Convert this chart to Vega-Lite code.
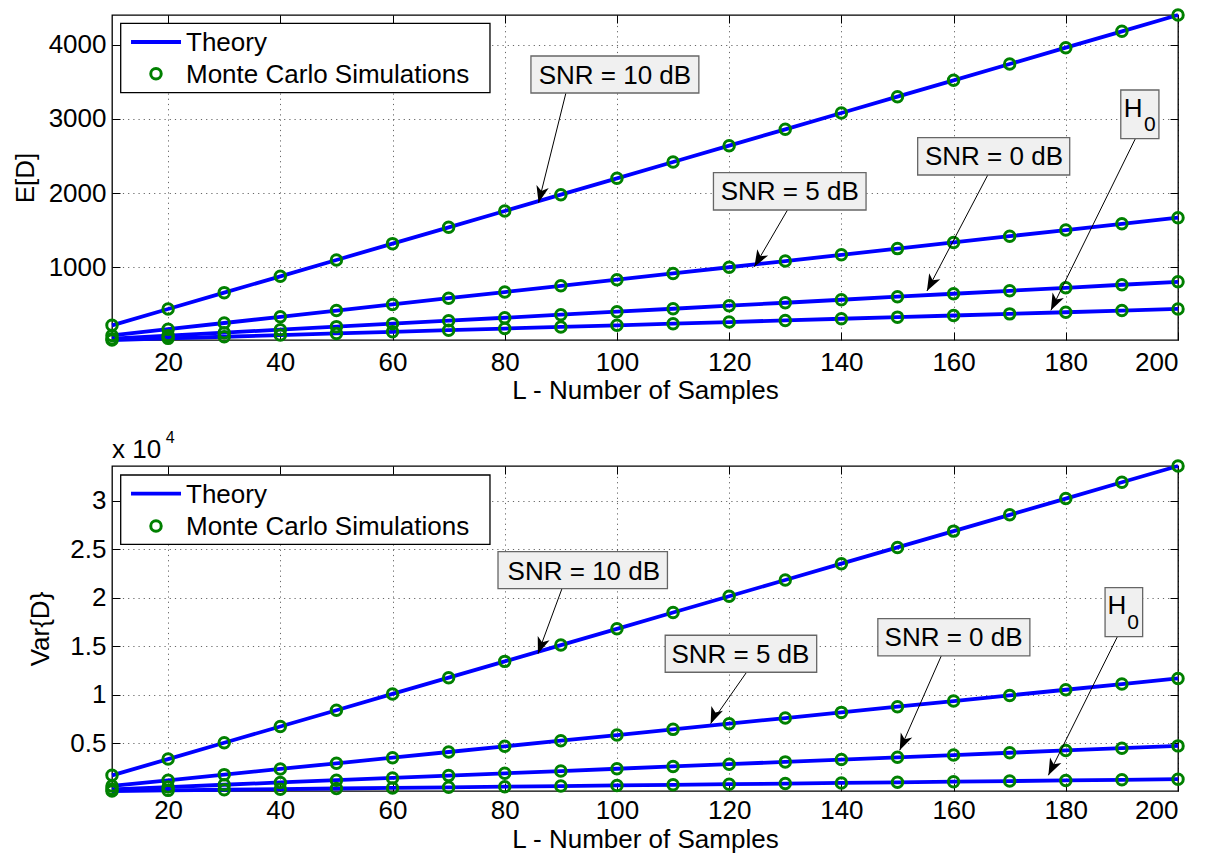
{
  "$schema": "https://vega.github.io/schema/vega-lite/v6.json",
  "background": "white",
  "padding": {"left": 11, "top": 3, "right": 5, "bottom": 0},
  "spacing": 25,
  "config": {
    "font": "Liberation Sans",
    "view": {"stroke": "#000", "strokeWidth": 1.3},
    "axis": {
      "labelFontSize": 26,
      "labelColor": "#000",
      "titleFontSize": 26,
      "titleFontWeight": "normal",
      "titleColor": "#000",
      "tickColor": "#000",
      "tickSize": -8,
      "tickWidth": 1,
      "domain": false,
      "grid": true,
      "gridColor": "#000",
      "gridOpacity": 0.6,
      "gridDash": [1.2, 4],
      "gridWidth": 1
    }
  },
  "datasets": {
    "mean": [
      {"L": 10, "curve": "SNR = 10 dB", "value": 220}, {"L": 20, "curve": "SNR = 10 dB", "value": 440}, {"L": 30, "curve": "SNR = 10 dB", "value": 660}, {"L": 40, "curve": "SNR = 10 dB", "value": 880}, {"L": 50, "curve": "SNR = 10 dB", "value": 1100}, {"L": 60, "curve": "SNR = 10 dB", "value": 1320}, {"L": 70, "curve": "SNR = 10 dB", "value": 1540}, {"L": 80, "curve": "SNR = 10 dB", "value": 1760}, {"L": 90, "curve": "SNR = 10 dB", "value": 1980}, {"L": 100, "curve": "SNR = 10 dB", "value": 2200},
      {"L": 110, "curve": "SNR = 10 dB", "value": 2420}, {"L": 120, "curve": "SNR = 10 dB", "value": 2640}, {"L": 130, "curve": "SNR = 10 dB", "value": 2860}, {"L": 140, "curve": "SNR = 10 dB", "value": 3080}, {"L": 150, "curve": "SNR = 10 dB", "value": 3300}, {"L": 160, "curve": "SNR = 10 dB", "value": 3520}, {"L": 170, "curve": "SNR = 10 dB", "value": 3740}, {"L": 180, "curve": "SNR = 10 dB", "value": 3960}, {"L": 190, "curve": "SNR = 10 dB", "value": 4180}, {"L": 200, "curve": "SNR = 10 dB", "value": 4400},
      {"L": 10, "curve": "SNR = 5 dB", "value": 84}, {"L": 20, "curve": "SNR = 5 dB", "value": 167}, {"L": 30, "curve": "SNR = 5 dB", "value": 251}, {"L": 40, "curve": "SNR = 5 dB", "value": 334}, {"L": 50, "curve": "SNR = 5 dB", "value": 418}, {"L": 60, "curve": "SNR = 5 dB", "value": 501}, {"L": 70, "curve": "SNR = 5 dB", "value": 585}, {"L": 80, "curve": "SNR = 5 dB", "value": 668}, {"L": 90, "curve": "SNR = 5 dB", "value": 752}, {"L": 100, "curve": "SNR = 5 dB", "value": 835},
      {"L": 110, "curve": "SNR = 5 dB", "value": 919}, {"L": 120, "curve": "SNR = 5 dB", "value": 1002}, {"L": 130, "curve": "SNR = 5 dB", "value": 1086}, {"L": 140, "curve": "SNR = 5 dB", "value": 1169}, {"L": 150, "curve": "SNR = 5 dB", "value": 1253}, {"L": 160, "curve": "SNR = 5 dB", "value": 1336}, {"L": 170, "curve": "SNR = 5 dB", "value": 1420}, {"L": 180, "curve": "SNR = 5 dB", "value": 1503}, {"L": 190, "curve": "SNR = 5 dB", "value": 1587}, {"L": 200, "curve": "SNR = 5 dB", "value": 1670},
      {"L": 10, "curve": "SNR = 0 dB", "value": 40}, {"L": 20, "curve": "SNR = 0 dB", "value": 81}, {"L": 30, "curve": "SNR = 0 dB", "value": 121}, {"L": 40, "curve": "SNR = 0 dB", "value": 161}, {"L": 50, "curve": "SNR = 0 dB", "value": 202}, {"L": 60, "curve": "SNR = 0 dB", "value": 242}, {"L": 70, "curve": "SNR = 0 dB", "value": 282}, {"L": 80, "curve": "SNR = 0 dB", "value": 322}, {"L": 90, "curve": "SNR = 0 dB", "value": 363}, {"L": 100, "curve": "SNR = 0 dB", "value": 403},
      {"L": 110, "curve": "SNR = 0 dB", "value": 443}, {"L": 120, "curve": "SNR = 0 dB", "value": 484}, {"L": 130, "curve": "SNR = 0 dB", "value": 524}, {"L": 140, "curve": "SNR = 0 dB", "value": 564}, {"L": 150, "curve": "SNR = 0 dB", "value": 605}, {"L": 160, "curve": "SNR = 0 dB", "value": 645}, {"L": 170, "curve": "SNR = 0 dB", "value": 685}, {"L": 180, "curve": "SNR = 0 dB", "value": 725}, {"L": 190, "curve": "SNR = 0 dB", "value": 766}, {"L": 200, "curve": "SNR = 0 dB", "value": 806},
      {"L": 10, "curve": "H0", "value": 22}, {"L": 20, "curve": "H0", "value": 44}, {"L": 30, "curve": "H0", "value": 66}, {"L": 40, "curve": "H0", "value": 88}, {"L": 50, "curve": "H0", "value": 110}, {"L": 60, "curve": "H0", "value": 132}, {"L": 70, "curve": "H0", "value": 154}, {"L": 80, "curve": "H0", "value": 176}, {"L": 90, "curve": "H0", "value": 198}, {"L": 100, "curve": "H0", "value": 220},
      {"L": 110, "curve": "H0", "value": 242}, {"L": 120, "curve": "H0", "value": 264}, {"L": 130, "curve": "H0", "value": 286}, {"L": 140, "curve": "H0", "value": 308}, {"L": 150, "curve": "H0", "value": 330}, {"L": 160, "curve": "H0", "value": 352}, {"L": 170, "curve": "H0", "value": 374}, {"L": 180, "curve": "H0", "value": 396}, {"L": 190, "curve": "H0", "value": 418}, {"L": 200, "curve": "H0", "value": 440}
    ],
    "variance": [
      {"L": 10, "curve": "SNR = 10 dB", "value": 1680}, {"L": 20, "curve": "SNR = 10 dB", "value": 3360}, {"L": 30, "curve": "SNR = 10 dB", "value": 5040}, {"L": 40, "curve": "SNR = 10 dB", "value": 6720}, {"L": 50, "curve": "SNR = 10 dB", "value": 8400}, {"L": 60, "curve": "SNR = 10 dB", "value": 10080}, {"L": 70, "curve": "SNR = 10 dB", "value": 11760}, {"L": 80, "curve": "SNR = 10 dB", "value": 13440}, {"L": 90, "curve": "SNR = 10 dB", "value": 15120}, {"L": 100, "curve": "SNR = 10 dB", "value": 16800},
      {"L": 110, "curve": "SNR = 10 dB", "value": 18480}, {"L": 120, "curve": "SNR = 10 dB", "value": 20160}, {"L": 130, "curve": "SNR = 10 dB", "value": 21840}, {"L": 140, "curve": "SNR = 10 dB", "value": 23520}, {"L": 150, "curve": "SNR = 10 dB", "value": 25200}, {"L": 160, "curve": "SNR = 10 dB", "value": 26880}, {"L": 170, "curve": "SNR = 10 dB", "value": 28560}, {"L": 180, "curve": "SNR = 10 dB", "value": 30240}, {"L": 190, "curve": "SNR = 10 dB", "value": 31920}, {"L": 200, "curve": "SNR = 10 dB", "value": 33600},
      {"L": 10, "curve": "SNR = 5 dB", "value": 584}, {"L": 20, "curve": "SNR = 5 dB", "value": 1168}, {"L": 30, "curve": "SNR = 5 dB", "value": 1752}, {"L": 40, "curve": "SNR = 5 dB", "value": 2336}, {"L": 50, "curve": "SNR = 5 dB", "value": 2920}, {"L": 60, "curve": "SNR = 5 dB", "value": 3504}, {"L": 70, "curve": "SNR = 5 dB", "value": 4088}, {"L": 80, "curve": "SNR = 5 dB", "value": 4672}, {"L": 90, "curve": "SNR = 5 dB", "value": 5256}, {"L": 100, "curve": "SNR = 5 dB", "value": 5840},
      {"L": 110, "curve": "SNR = 5 dB", "value": 6424}, {"L": 120, "curve": "SNR = 5 dB", "value": 7008}, {"L": 130, "curve": "SNR = 5 dB", "value": 7592}, {"L": 140, "curve": "SNR = 5 dB", "value": 8176}, {"L": 150, "curve": "SNR = 5 dB", "value": 8760}, {"L": 160, "curve": "SNR = 5 dB", "value": 9344}, {"L": 170, "curve": "SNR = 5 dB", "value": 9928}, {"L": 180, "curve": "SNR = 5 dB", "value": 10512}, {"L": 190, "curve": "SNR = 5 dB", "value": 11096}, {"L": 200, "curve": "SNR = 5 dB", "value": 11680},
      {"L": 10, "curve": "SNR = 0 dB", "value": 236}, {"L": 20, "curve": "SNR = 0 dB", "value": 472}, {"L": 30, "curve": "SNR = 0 dB", "value": 708}, {"L": 40, "curve": "SNR = 0 dB", "value": 944}, {"L": 50, "curve": "SNR = 0 dB", "value": 1180}, {"L": 60, "curve": "SNR = 0 dB", "value": 1416}, {"L": 70, "curve": "SNR = 0 dB", "value": 1652}, {"L": 80, "curve": "SNR = 0 dB", "value": 1888}, {"L": 90, "curve": "SNR = 0 dB", "value": 2124}, {"L": 100, "curve": "SNR = 0 dB", "value": 2360},
      {"L": 110, "curve": "SNR = 0 dB", "value": 2596}, {"L": 120, "curve": "SNR = 0 dB", "value": 2832}, {"L": 130, "curve": "SNR = 0 dB", "value": 3068}, {"L": 140, "curve": "SNR = 0 dB", "value": 3304}, {"L": 150, "curve": "SNR = 0 dB", "value": 3540}, {"L": 160, "curve": "SNR = 0 dB", "value": 3776}, {"L": 170, "curve": "SNR = 0 dB", "value": 4012}, {"L": 180, "curve": "SNR = 0 dB", "value": 4248}, {"L": 190, "curve": "SNR = 0 dB", "value": 4484}, {"L": 200, "curve": "SNR = 0 dB", "value": 4720},
      {"L": 10, "curve": "H0", "value": 64}, {"L": 20, "curve": "H0", "value": 128}, {"L": 30, "curve": "H0", "value": 192}, {"L": 40, "curve": "H0", "value": 256}, {"L": 50, "curve": "H0", "value": 320}, {"L": 60, "curve": "H0", "value": 384}, {"L": 70, "curve": "H0", "value": 448}, {"L": 80, "curve": "H0", "value": 512}, {"L": 90, "curve": "H0", "value": 576}, {"L": 100, "curve": "H0", "value": 640},
      {"L": 110, "curve": "H0", "value": 704}, {"L": 120, "curve": "H0", "value": 768}, {"L": 130, "curve": "H0", "value": 832}, {"L": 140, "curve": "H0", "value": 896}, {"L": 150, "curve": "H0", "value": 960}, {"L": 160, "curve": "H0", "value": 1024}, {"L": 170, "curve": "H0", "value": 1088}, {"L": 180, "curve": "H0", "value": 1152}, {"L": 190, "curve": "H0", "value": 1216}, {"L": 200, "curve": "H0", "value": 1280}
    ],
    "meanNotes": [
      {"kind": "legendBox", "x": 11.55, "x2": 77.37, "y": 3353, "y2": 4288},
      {"kind": "legendLine", "x": 13.39, "x2": 22.3, "y": 4036},
      {"kind": "legendMark", "x": 17.84, "y": 3609},
      {"kind": "legendText", "x": 23.19, "y": 3915, "text": "Theory"},
      {"kind": "legendText", "x": 23.19, "y": 3488, "text": "Monte Carlo Simulations"},
      {"kind": "box", "x": 84.67, "x2": 114.6, "y": 3349, "y2": 3848},
      {"kind": "box", "x": 117.2, "x2": 144.4, "y": 1773, "y2": 2276},
      {"kind": "box", "x": 153.6, "x2": 180.7, "y": 2245, "y2": 2747},
      {"kind": "box", "x": 189.8, "x2": 196.6, "y": 2734, "y2": 3390},
      {"kind": "label", "x": 99.64, "y": 3466, "text": "SNR = 10 dB"},
      {"kind": "label", "x": 130.8, "y": 1904, "text": "SNR = 5 dB"},
      {"kind": "label", "x": 167.2, "y": 2375, "text": "SNR = 0 dB"},
      {"kind": "label", "x": 192.0, "y": 3030, "text": "H"},
      {"kind": "sub", "x": 195.0, "y": 2837, "text": "0"},
      {"kind": "arrow", "curve": "SNR = 10 dB", "x": 90.9, "y": 3349, "x2": 86.03, "y2": 1872},
      {"kind": "arrow", "curve": "SNR = 5 dB", "x": 130.4, "y": 1773, "x2": 124.5, "y2": 1009},
      {"kind": "arrow", "curve": "SNR = 0 dB", "x": 166.1, "y": 2245, "x2": 155.25, "y2": 682},
      {"kind": "arrow", "curve": "H0", "x": 192.4, "y": 2734, "x2": 177.35, "y2": 422}
    ],
    "varNotes": [
      {"kind": "legendBox", "x": 11.55, "x2": 77.37, "y": 25522, "y2": 32673},
      {"kind": "legendLine", "x": 13.39, "x2": 22.3, "y": 30743},
      {"kind": "legendMark", "x": 17.84, "y": 27410},
      {"kind": "legendText", "x": 23.19, "y": 29784, "text": "Theory"},
      {"kind": "legendText", "x": 23.19, "y": 26513, "text": "Monte Carlo Simulations"},
      {"kind": "box", "x": 78.8, "x2": 109.0, "y": 20941, "y2": 24759},
      {"kind": "box", "x": 108.6, "x2": 135.6, "y": 12315, "y2": 16133},
      {"kind": "box", "x": 146.5, "x2": 173.6, "y": 13997, "y2": 17846},
      {"kind": "box", "x": 187.0, "x2": 193.7, "y": 15989, "y2": 21045},
      {"kind": "label", "x": 94.1, "y": 21839, "text": "SNR = 10 dB"},
      {"kind": "label", "x": 122.0, "y": 13244, "text": "SNR = 5 dB"},
      {"kind": "label", "x": 160.0, "y": 15029, "text": "SNR = 0 dB"},
      {"kind": "label", "x": 189.1, "y": 18300, "text": "H"},
      {"kind": "sub", "x": 192.0, "y": 16783, "text": "0"},
      {"kind": "arrow", "curve": "SNR = 10 dB", "x": 90.2, "y": 20941, "x2": 85.92, "y2": 14234},
      {"kind": "arrow", "curve": "SNR = 5 dB", "x": 123.1, "y": 12315, "x2": 116.7, "y2": 7012},
      {"kind": "arrow", "curve": "SNR = 0 dB", "x": 157.8, "y": 13997, "x2": 150.4, "y2": 4267},
      {"kind": "arrow", "curve": "H0", "x": 189.2, "y": 15989, "x2": 176.9, "y2": 1688},
      {"kind": "exponent", "x": 10, "y": 34460, "text": "x 10"},
      {"kind": "power", "x": 19.6, "y": 36000, "text": "4"}
    ]
  },
  "vconcat": [
    {
      "width": 1066,
      "height": 325,
      "resolve": {"axis": {"x": "independent", "y": "independent"}},
      "layer": [
        {
          "data": {"name": "mean"},
          "mark": {"type": "line", "color": "#0000ff", "strokeWidth": 3.8},
          "encoding": {
            "x": {"field": "L", "type": "quantitative", "scale": {"domain": [10, 200], "nice": false, "zero": false},
                  "axis": {"title": "L - Number of Samples", "values": [20, 40, 60, 80, 100, 120, 140, 160, 180, 200], "labelPadding": 17, "titlePadding": 2}},
            "y": {"field": "value", "type": "quantitative", "scale": {"domain": [22, 4400], "nice": false, "zero": false},
                  "axis": {"title": "E[D]", "values": [1000, 2000, 3000, 4000], "format": "d", "labelPadding": 14, "titlePadding": 10}},
            "detail": {"field": "curve"}
          }
        },
        {
          "data": {"name": "mean"},
          "mark": {"type": "point", "shape": "circle", "filled": false, "color": "#008000", "strokeWidth": 3, "size": 110, "opacity": 1},
          "encoding": {
            "x": {"field": "L", "type": "quantitative", "axis": {"orient": "top", "labels": false, "title": null, "grid": false, "values": [20, 40, 60, 80, 100, 120, 140, 160, 180, 200]}},
            "y": {"field": "value", "type": "quantitative", "axis": {"orient": "right", "labels": false, "title": null, "grid": false, "values": [1000, 2000, 3000, 4000]}}
          }
        },
        {
          "data": {"name": "meanNotes"},
          "transform": [{"filter": "datum.kind == 'legendBox'"}],
          "mark": {"type": "rect", "fill": "#fff", "stroke": "#000", "strokeWidth": 1.3},
          "encoding": {
            "x": {"field": "x", "type": "quantitative", "axis": null}, "x2": {"field": "x2"},
            "y": {"field": "y", "type": "quantitative", "axis": null}, "y2": {"field": "y2"}
          }
        },
        {
          "data": {"name": "meanNotes"},
          "transform": [{"filter": "datum.kind == 'legendLine'"}],
          "mark": {"type": "rule", "color": "#0000ff", "strokeWidth": 3.8},
          "encoding": {
            "x": {"field": "x", "type": "quantitative", "axis": null}, "x2": {"field": "x2"},
            "y": {"field": "y", "type": "quantitative", "axis": null}
          }
        },
        {
          "data": {"name": "meanNotes"},
          "transform": [{"filter": "datum.kind == 'legendMark'"}],
          "mark": {"type": "point", "shape": "circle", "filled": false, "color": "#008000", "strokeWidth": 3, "size": 110, "opacity": 1},
          "encoding": {
            "x": {"field": "x", "type": "quantitative", "axis": null},
            "y": {"field": "y", "type": "quantitative", "axis": null}
          }
        },
        {
          "data": {"name": "meanNotes"},
          "transform": [{"filter": "datum.kind == 'legendText'"}],
          "mark": {"type": "text", "align": "left", "baseline": "alphabetic", "fontSize": 26, "color": "#000"},
          "encoding": {
            "x": {"field": "x", "type": "quantitative", "axis": null},
            "y": {"field": "y", "type": "quantitative", "axis": null},
            "text": {"field": "text"}
          }
        },
        {
          "data": {"name": "meanNotes"},
          "transform": [{"filter": "datum.kind == 'arrow'"}],
          "mark": {"type": "rule", "color": "#000", "strokeWidth": 1},
          "encoding": {
            "x": {"field": "x", "type": "quantitative", "axis": null}, "x2": {"field": "x2"},
            "y": {"field": "y", "type": "quantitative", "axis": null}, "y2": {"field": "y2"}
          }
        },
        {
          "data": {"name": "meanNotes"},
          "transform": [{"filter": "datum.kind == 'arrow' && datum.curve == 'SNR = 10 dB'"}],
          "mark": {"type": "point", "shape": "M0,0L-0.7,1.85L0,1.35L0.7,1.85Z", "filled": true, "color": "#000", "size": 324, "opacity": 1, "angle": 194},
          "encoding": {
            "x": {"field": "x2", "type": "quantitative", "axis": null},
            "y": {"field": "y2", "type": "quantitative", "axis": null}
          }
        },
        {
          "data": {"name": "meanNotes"},
          "transform": [{"filter": "datum.kind == 'arrow' && datum.curve == 'SNR = 5 dB'"}],
          "mark": {"type": "point", "shape": "M0,0L-0.7,1.85L0,1.35L0.7,1.85Z", "filled": true, "color": "#000", "size": 324, "opacity": 1, "angle": 210},
          "encoding": {
            "x": {"field": "x2", "type": "quantitative", "axis": null},
            "y": {"field": "y2", "type": "quantitative", "axis": null}
          }
        },
        {
          "data": {"name": "meanNotes"},
          "transform": [{"filter": "datum.kind == 'arrow' && datum.curve == 'SNR = 0 dB'"}],
          "mark": {"type": "point", "shape": "M0,0L-0.7,1.85L0,1.35L0.7,1.85Z", "filled": true, "color": "#000", "size": 324, "opacity": 1, "angle": 208},
          "encoding": {
            "x": {"field": "x2", "type": "quantitative", "axis": null},
            "y": {"field": "y2", "type": "quantitative", "axis": null}
          }
        },
        {
          "data": {"name": "meanNotes"},
          "transform": [{"filter": "datum.kind == 'arrow' && datum.curve == 'H0'"}],
          "mark": {"type": "point", "shape": "M0,0L-0.7,1.85L0,1.35L0.7,1.85Z", "filled": true, "color": "#000", "size": 324, "opacity": 1, "angle": 206},
          "encoding": {
            "x": {"field": "x2", "type": "quantitative", "axis": null},
            "y": {"field": "y2", "type": "quantitative", "axis": null}
          }
        },
        {
          "data": {"name": "meanNotes"},
          "transform": [{"filter": "datum.kind == 'box'"}],
          "mark": {"type": "rect", "fill": "#f0f0f0", "stroke": "#666", "strokeWidth": 1.3},
          "encoding": {
            "x": {"field": "x", "type": "quantitative", "axis": null}, "x2": {"field": "x2"},
            "y": {"field": "y", "type": "quantitative", "axis": null}, "y2": {"field": "y2"}
          }
        },
        {
          "data": {"name": "meanNotes"},
          "transform": [{"filter": "datum.kind == 'label'"}],
          "mark": {"type": "text", "align": "center", "baseline": "alphabetic", "fontSize": 26, "color": "#000"},
          "encoding": {
            "x": {"field": "x", "type": "quantitative", "axis": null},
            "y": {"field": "y", "type": "quantitative", "axis": null},
            "text": {"field": "text"}
          }
        },
        {
          "data": {"name": "meanNotes"},
          "transform": [{"filter": "datum.kind == 'sub'"}],
          "mark": {"type": "text", "align": "center", "baseline": "alphabetic", "fontSize": 21, "color": "#000"},
          "encoding": {
            "x": {"field": "x", "type": "quantitative", "axis": null},
            "y": {"field": "y", "type": "quantitative", "axis": null},
            "text": {"field": "text"}
          }
        }
      ]
    },
    {
      "width": 1066,
      "height": 325,
      "resolve": {"axis": {"x": "independent", "y": "independent"}},
      "layer": [
        {
          "data": {"name": "variance"},
          "mark": {"type": "line", "color": "#0000ff", "strokeWidth": 3.8},
          "encoding": {
            "x": {"field": "L", "type": "quantitative", "scale": {"domain": [10, 200], "nice": false, "zero": false},
                  "axis": {"title": "L - Number of Samples", "values": [20, 40, 60, 80, 100, 120, 140, 160, 180, 200], "labelPadding": 14, "titlePadding": 3}},
            "y": {"field": "value", "type": "quantitative", "scale": {"domain": [64, 33600], "nice": false, "zero": false},
                  "axis": {"title": "Var{D}", "values": [5000, 10000, 15000, 20000, 25000, 30000], "labelExpr": "'' + datum.value / 10000", "labelPadding": 14, "titlePadding": 16}},
            "detail": {"field": "curve"}
          }
        },
        {
          "data": {"name": "variance"},
          "mark": {"type": "point", "shape": "circle", "filled": false, "color": "#008000", "strokeWidth": 3, "size": 110, "opacity": 1},
          "encoding": {
            "x": {"field": "L", "type": "quantitative", "axis": {"orient": "top", "labels": false, "title": null, "grid": false, "values": [20, 40, 60, 80, 100, 120, 140, 160, 180, 200]}},
            "y": {"field": "value", "type": "quantitative", "axis": {"orient": "right", "labels": false, "title": null, "grid": false, "values": [5000, 10000, 15000, 20000, 25000, 30000]}}
          }
        },
        {
          "data": {"name": "varNotes"},
          "transform": [{"filter": "datum.kind == 'legendBox'"}],
          "mark": {"type": "rect", "fill": "#fff", "stroke": "#000", "strokeWidth": 1.3},
          "encoding": {
            "x": {"field": "x", "type": "quantitative", "axis": null}, "x2": {"field": "x2"},
            "y": {"field": "y", "type": "quantitative", "axis": null}, "y2": {"field": "y2"}
          }
        },
        {
          "data": {"name": "varNotes"},
          "transform": [{"filter": "datum.kind == 'legendLine'"}],
          "mark": {"type": "rule", "color": "#0000ff", "strokeWidth": 3.8},
          "encoding": {
            "x": {"field": "x", "type": "quantitative", "axis": null}, "x2": {"field": "x2"},
            "y": {"field": "y", "type": "quantitative", "axis": null}
          }
        },
        {
          "data": {"name": "varNotes"},
          "transform": [{"filter": "datum.kind == 'legendMark'"}],
          "mark": {"type": "point", "shape": "circle", "filled": false, "color": "#008000", "strokeWidth": 3, "size": 110, "opacity": 1},
          "encoding": {
            "x": {"field": "x", "type": "quantitative", "axis": null},
            "y": {"field": "y", "type": "quantitative", "axis": null}
          }
        },
        {
          "data": {"name": "varNotes"},
          "transform": [{"filter": "datum.kind == 'legendText'"}],
          "mark": {"type": "text", "align": "left", "baseline": "alphabetic", "fontSize": 26, "color": "#000"},
          "encoding": {
            "x": {"field": "x", "type": "quantitative", "axis": null},
            "y": {"field": "y", "type": "quantitative", "axis": null},
            "text": {"field": "text"}
          }
        },
        {
          "data": {"name": "varNotes"},
          "transform": [{"filter": "datum.kind == 'arrow'"}],
          "mark": {"type": "rule", "color": "#000", "strokeWidth": 1},
          "encoding": {
            "x": {"field": "x", "type": "quantitative", "axis": null}, "x2": {"field": "x2"},
            "y": {"field": "y", "type": "quantitative", "axis": null}, "y2": {"field": "y2"}
          }
        },
        {
          "data": {"name": "varNotes"},
          "transform": [{"filter": "datum.kind == 'arrow' && datum.curve == 'SNR = 10 dB'"}],
          "mark": {"type": "point", "shape": "M0,0L-0.7,1.85L0,1.35L0.7,1.85Z", "filled": true, "color": "#000", "size": 324, "opacity": 1, "angle": 200},
          "encoding": {
            "x": {"field": "x2", "type": "quantitative", "axis": null},
            "y": {"field": "y2", "type": "quantitative", "axis": null}
          }
        },
        {
          "data": {"name": "varNotes"},
          "transform": [{"filter": "datum.kind == 'arrow' && datum.curve == 'SNR = 5 dB'"}],
          "mark": {"type": "point", "shape": "M0,0L-0.7,1.85L0,1.35L0.7,1.85Z", "filled": true, "color": "#000", "size": 324, "opacity": 1, "angle": 203},
          "encoding": {
            "x": {"field": "x2", "type": "quantitative", "axis": null},
            "y": {"field": "y2", "type": "quantitative", "axis": null}
          }
        },
        {
          "data": {"name": "varNotes"},
          "transform": [{"filter": "datum.kind == 'arrow' && datum.curve == 'SNR = 0 dB'"}],
          "mark": {"type": "point", "shape": "M0,0L-0.7,1.85L0,1.35L0.7,1.85Z", "filled": true, "color": "#000", "size": 324, "opacity": 1, "angle": 204},
          "encoding": {
            "x": {"field": "x2", "type": "quantitative", "axis": null},
            "y": {"field": "y2", "type": "quantitative", "axis": null}
          }
        },
        {
          "data": {"name": "varNotes"},
          "transform": [{"filter": "datum.kind == 'arrow' && datum.curve == 'H0'"}],
          "mark": {"type": "point", "shape": "M0,0L-0.7,1.85L0,1.35L0.7,1.85Z", "filled": true, "color": "#000", "size": 324, "opacity": 1, "angle": 206},
          "encoding": {
            "x": {"field": "x2", "type": "quantitative", "axis": null},
            "y": {"field": "y2", "type": "quantitative", "axis": null}
          }
        },
        {
          "data": {"name": "varNotes"},
          "transform": [{"filter": "datum.kind == 'box'"}],
          "mark": {"type": "rect", "fill": "#f0f0f0", "stroke": "#666", "strokeWidth": 1.3},
          "encoding": {
            "x": {"field": "x", "type": "quantitative", "axis": null}, "x2": {"field": "x2"},
            "y": {"field": "y", "type": "quantitative", "axis": null}, "y2": {"field": "y2"}
          }
        },
        {
          "data": {"name": "varNotes"},
          "transform": [{"filter": "datum.kind == 'label'"}],
          "mark": {"type": "text", "align": "center", "baseline": "alphabetic", "fontSize": 26, "color": "#000"},
          "encoding": {
            "x": {"field": "x", "type": "quantitative", "axis": null},
            "y": {"field": "y", "type": "quantitative", "axis": null},
            "text": {"field": "text"}
          }
        },
        {
          "data": {"name": "varNotes"},
          "transform": [{"filter": "datum.kind == 'sub'"}],
          "mark": {"type": "text", "align": "center", "baseline": "alphabetic", "fontSize": 21, "color": "#000"},
          "encoding": {
            "x": {"field": "x", "type": "quantitative", "axis": null},
            "y": {"field": "y", "type": "quantitative", "axis": null},
            "text": {"field": "text"}
          }
        },
        {
          "data": {"name": "varNotes"},
          "transform": [{"filter": "datum.kind == 'exponent'"}],
          "mark": {"type": "text", "align": "left", "baseline": "alphabetic", "fontSize": 26, "color": "#000"},
          "encoding": {
            "x": {"field": "x", "type": "quantitative", "axis": null},
            "y": {"field": "y", "type": "quantitative", "axis": null},
            "text": {"field": "text"}
          }
        },
        {
          "data": {"name": "varNotes"},
          "transform": [{"filter": "datum.kind == 'power'"}],
          "mark": {"type": "text", "align": "left", "baseline": "alphabetic", "fontSize": 16, "color": "#000"},
          "encoding": {
            "x": {"field": "x", "type": "quantitative", "axis": null},
            "y": {"field": "y", "type": "quantitative", "axis": null},
            "text": {"field": "text"}
          }
        }
      ]
    }
  ]
}
